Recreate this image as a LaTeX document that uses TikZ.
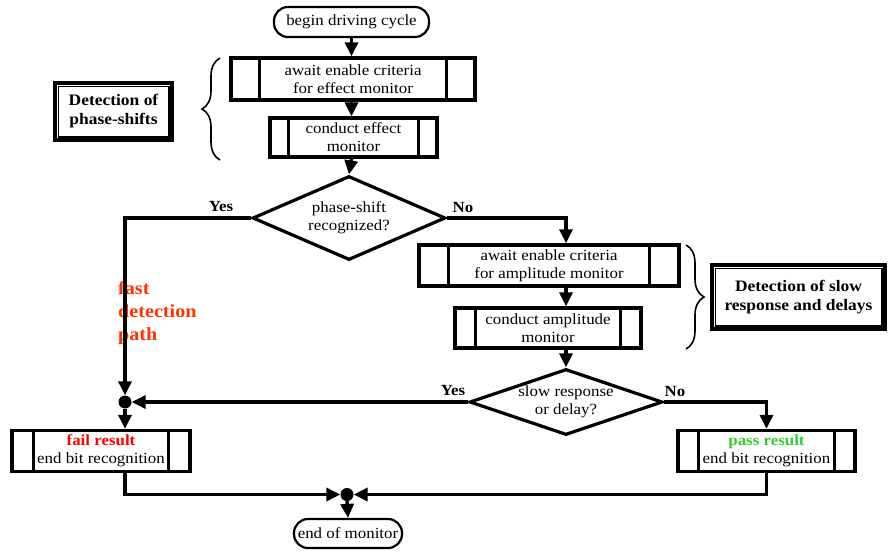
\documentclass[tikz,border=0pt]{standalone}
\usepackage{fontspec}
\setmainfont{Liberation Serif}[FakeStretch=1.09]
\usetikzlibrary{arrows.meta,shapes.geometric,decorations.pathreplacing}
\definecolor{fastred}{HTML}{FF3300}
\definecolor{passgreen}{HTML}{33CC33}
\begin{document}
\begin{tikzpicture}[x=1pt,y=-1pt,
  every node/.style={font=\fontsize{15.5}{18}\selectfont, align=center, inner sep=0pt},
  procbox/.style={draw, line width=3.4pt, rectangle},
  termbox/.style={draw, line width=2.2pt, rectangle, rounded corners=14pt},
  dia/.style={draw, line width=3.2pt, diamond},
  labelbox/.style={draw, line width=3.5pt, rectangle, font=\fontsize{16}{19}\selectfont\bfseries},
  yn/.style={font=\fontsize{15.5}{18}\selectfont\bfseries},
  flow/.style={line width=3.4pt, -{Triangle[length=14pt,width=13pt]}},
  bar/.style={line width=3.2pt},
  brc/.style={line width=1.6pt, decorate, decoration={brace, amplitude=18pt}},
  dot/.style={circle, fill=black, minimum size=13pt, inner sep=0pt}
]
\useasboundingbox (0,0) rectangle (895,558);

% terminals
\node[termbox, minimum width=155pt, minimum height=30pt] (start) at (351.5,22) {begin driving cycle};
\node[termbox, minimum width=108pt, minimum height=29pt] (stop) at (348,533.5) {end of monitor};

% process boxes
\node[procbox, minimum width=244pt, minimum height=42pt] (b1) at (353,79) {await enable criteria\\for effect monitor};
\node[procbox, minimum width=167pt, minimum height=39pt] (b2) at (353.5,137.5) {conduct effect\\monitor};
\node[procbox, minimum width=260pt, minimum height=41pt] (b3) at (549,265.5) {await enable criteria\\for amplitude monitor};
\node[procbox, minimum width=186pt, minimum height=40pt] (b4) at (548,328) {conduct amplitude\\monitor};
\node[procbox, minimum width=178pt, minimum height=41pt] (fail) at (101,451) {\textcolor{red}{\bfseries fail result}\\end bit recognition};
\node[procbox, minimum width=177pt, minimum height=41pt] (pass) at (766.5,451) {\textcolor{passgreen}{\bfseries pass result}\\end bit recognition};

% side bars of the process boxes
\foreach \n/\d in {b1/30, b2/20, b3/31, b4/22, fail/23, pass/22}{
  \draw[bar] ([xshift=\d pt]\n.north west) -- ([xshift=\d pt]\n.south west);
  \draw[bar] ([xshift=-\d pt]\n.north east) -- ([xshift=-\d pt]\n.south east);
}

% decisions
\node[dia, minimum width=193pt, minimum height=84pt] (d1) at (349,218) {};
\node at (d1) {phase-shift\\recognized?};
\node[dia, minimum width=193pt, minimum height=66pt] (d2) at (566,402) {};
\node at (d2) {slow response\\or delay?};

% junction dots
\node[dot] (j1) at (125,402) {};
\node[dot] (j2) at (347,494.5) {};

% labels
\node[yn] (y1) at (221,206) {Yes};
\node[yn] (n1) at (463,207) {No};
\node[yn] (y2) at (453,390) {Yes};
\node[yn] (n2) at (675,391) {No};

\node[font=\fontsize{18.5}{23}\selectfont\bfseries, text=fastred, align=left, anchor=north west] (fast) at (118,281) {fast\\detection\\path};

% group boxes
\node[labelbox, minimum width=117pt, minimum height=57pt] (g1) at (113.5,111.5) {Detection of\\phase-shifts};
\draw[line width=1.5pt] ([shift={(5,5)}]g1.north west) rectangle ([shift={(-5,-5)}]g1.south east);
\node[labelbox, minimum width=173pt, minimum height=64pt] (g2) at (798.5,297) {Detection of slow\\response and delays};
\draw[line width=1.5pt] ([shift={(5,5)}]g2.north west) rectangle ([shift={(-5,-5)}]g2.south east);

% braces
\coordinate (br1a) at (220,160);
\coordinate (br1b) at (220,58);
\draw[brc] (br1a) -- (br1b);
\coordinate (br2a) at (686,245);
\coordinate (br2b) at (686,349);
\draw[brc] (br2a) -- (br2b);

% connectors
\draw[flow] (start.south) -- (start.south |- b1.north);
\draw[flow] (b1.south -| start.south) -- (start.south |- b2.north);
\draw[flow] (b2.south -| start.south) -- (d1.north);
\draw[flow] (d1.west) -| (j1.north);
\draw[flow] (d1.east) -| (d2.north |- b3.north);
\draw[flow] (d2.north |- b3.south) -- (d2.north |- b4.north);
\draw[flow] (d2.north |- b4.south) -- (d2.north);
\draw[flow] (d2.west) -- (j1.east);
\draw[flow] (d2.east) -| (pass.north);
\draw[flow] (j1.south) -- (j1 |- fail.north);
\draw[flow] (j1 |- fail.south) |- (j2.west);
\draw[flow] (pass.south) |- (j2.east);
\draw[flow] (j2.south) -- (stop.north);
\end{tikzpicture}
\end{document}
